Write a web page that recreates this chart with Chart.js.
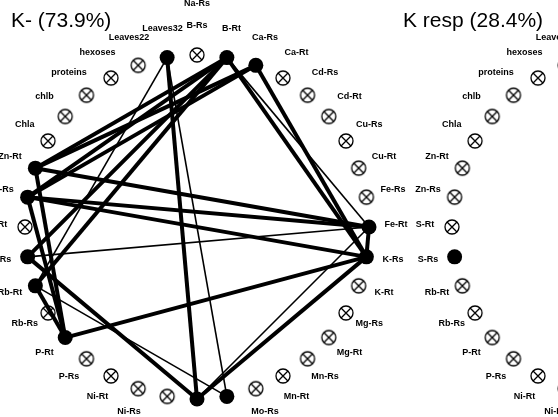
<!DOCTYPE html>
<html>
<head>
<meta charset="utf-8">
<script src="https://cdn.jsdelivr.net/npm/chart.js@4.4.1/dist/chart.umd.min.js"></script>
<style>
  html, body { margin: 0; padding: 0; background: #ffffff; }
  #wrap { width: 558px; height: 417px; }
</style>
</head>
<body>
<div id="wrap"><canvas id="net" width="558" height="417"></canvas></div>
<script>
// Variables placed clockwise around each circle, starting at 12 o'clock.
const variables = [
  'B-Rs', 'B-Rt', 'Ca-Rs', 'Ca-Rt', 'Cd-Rs', 'Cd-Rt', 'Cu-Rs', 'Cu-Rt', 'Fe-Rs', 'Fe-Rt',
  'K-Rs', 'K-Rt', 'Mg-Rs', 'Mg-Rt', 'Mn-Rs', 'Mn-Rt', 'Mo-Rs', 'Mo-Rt', 'Na-Rs', 'Na-Rt',
  'Ni-Rs', 'Ni-Rt', 'P-Rs', 'P-Rt', 'Rb-Rs', 'Rb-Rt', 'S-Rs', 'S-Rt', 'Zn-Rs', 'Zn-Rt',
  'Chla', 'chlb', 'proteins', 'hexoses', 'Leaves22', 'Leaves32'
];

// Panel titles.
const panelTitles = ['K- (73.9%)', 'K resp (28.4%)'];

// Variables retained in each network (drawn as filled nodes).
const retainedKminus = ['B-Rt', 'Ca-Rs', 'Fe-Rt', 'K-Rs', 'Mo-Rt', 'Na-Rs', 'P-Rt',
                        'Rb-Rt', 'S-Rs', 'Zn-Rs', 'Zn-Rt', 'Leaves32'];
const retainedKresp = ['S-Rs'];

// Links of the K- network: [from, to, strength] (2 = strong, 1 = weak).
const linksKminus = [
  ['Zn-Rt', 'B-Rt', 2],
  ['Zn-Rt', 'Ca-Rs', 2],
  ['Zn-Rt', 'Fe-Rt', 2],
  ['Zn-Rt', 'P-Rt', 2],
  ['Zn-Rs', 'B-Rt', 2],
  ['Zn-Rs', 'Ca-Rs', 2],
  ['Zn-Rs', 'Fe-Rt', 2],
  ['Zn-Rs', 'K-Rs', 2],
  ['Zn-Rs', 'P-Rt', 2],
  ['S-Rs', 'B-Rt', 2],
  ['B-Rt', 'K-Rs', 2],
  ['B-Rt', 'Rb-Rt', 2],
  ['Ca-Rs', 'K-Rs', 2],
  ['Leaves32', 'Na-Rs', 2],
  ['S-Rs', 'Na-Rs', 2],
  ['Na-Rs', 'K-Rs', 2],
  ['P-Rt', 'K-Rs', 2],
  ['Rb-Rt', 'P-Rt', 2],
  ['Fe-Rt', 'K-Rs', 2],
  ['S-Rs', 'Fe-Rt', 1],
  ['Leaves32', 'Mo-Rt', 1],
  ['Leaves32', 'Rb-Rt', 1],
  ['Rb-Rt', 'Mo-Rt', 1],
  ['Na-Rs', 'Fe-Rt', 1],
  ['B-Rt', 'Fe-Rt', 1]
];
const linksKresp = [];

// ---- layout (radius = 1 data unit) ----
const PX_PER_UNIT = 172;
const panelCentreX = [0, 427 / PX_PER_UNIT];
const X_MIN = -197 / PX_PER_UNIT, X_MAX = X_MIN + 558 / PX_PER_UNIT;
const Y_MAX = 227 / PX_PER_UNIT, Y_MIN = Y_MAX - 417 / PX_PER_UNIT;
const LABEL_R = 199 / PX_PER_UNIT;

function angleOf(name) {
  const i = variables.indexOf(name);
  return (90 - 360 * i / variables.length) * Math.PI / 180;
}
function nodePos(panel, name, r = 1) {
  const a = angleOf(name);
  return { x: panelCentreX[panel] + r * Math.cos(a), y: r * Math.sin(a) };
}

// Open node marker: circle with a cross.
function makeCrossMarker() {
  const s = 18, c = s / 2, r = 7;
  const cv = document.createElement('canvas');
  cv.width = s; cv.height = s;
  const g = cv.getContext('2d');
  g.strokeStyle = '#000';
  g.lineWidth = 1.3;
  g.beginPath(); g.arc(c, c, r, 0, Math.PI * 2); g.stroke();
  const d = r * Math.SQRT1_2;
  g.beginPath();
  g.moveTo(c - d, c - d); g.lineTo(c + d, c + d);
  g.moveTo(c + d, c - d); g.lineTo(c - d, c + d);
  g.stroke();
  return cv;
}
const crossMarker = makeCrossMarker();

const datasets = [];
const retained = [retainedKminus, retainedKresp];
const links = [linksKminus, linksKresp];

retained.forEach((keep, p) => {
  datasets.push({
    label: 'retained ' + p,
    data: keep.map(n => nodePos(p, n)),
    showLine: false,
    pointRadius: 7.5,
    pointBackgroundColor: '#000',
    pointBorderWidth: 0,
    order: 0
  });
  datasets.push({
    label: 'other ' + p,
    data: variables.filter(n => !keep.includes(n)).map(n => nodePos(p, n)),
    showLine: false,
    pointStyle: crossMarker,
    pointRadius: 7,
    order: 0
  });
});

links.forEach((list, p) => {
  list.forEach(([a, b, w]) => {
    datasets.push({
      label: a + ' - ' + b,
      data: [nodePos(p, a), nodePos(p, b)],
      showLine: true,
      borderColor: '#000',
      borderWidth: w === 2 ? 4 : 1.6,
      pointRadius: 0,
      fill: false,
      order: 1
    });
  });
});

const labelPlugin = {
  id: 'circleLabels',
  afterDatasetsDraw(chart) {
    const { ctx, scales } = chart;
    const xs = scales.x, ys = scales.y;
    ctx.save();
    ctx.fillStyle = '#000';
    ctx.textAlign = 'center';
    ctx.textBaseline = 'middle';
    ctx.font = 'bold 9px "Liberation Sans", Arial, sans-serif';
    panelTitles.forEach((t, p) => {
      variables.forEach(n => {
        const q = nodePos(p, n, LABEL_R);
        ctx.fillText(n, xs.getPixelForValue(q.x), ys.getPixelForValue(q.y) - 2.5);
      });
    });
    // label of the neighbouring network above
    ctx.fillText('Na-Rs', xs.getPixelForValue(0), 4);

    ctx.font = '21px "Liberation Sans", Arial, sans-serif';
    ctx.textAlign = 'left';
    ctx.fillText(panelTitles[0], 11, 21);
    ctx.fillText(panelTitles[1], 403, 21);
    ctx.restore();
  }
};

new Chart(document.getElementById('net'), {
  type: 'scatter',
  data: { datasets },
  options: {
    responsive: false,
    animation: false,
    devicePixelRatio: 1,
    layout: { padding: 0, autoPadding: false },
    plugins: { legend: { display: false }, tooltip: { enabled: false } },
    scales: {
      x: { type: 'linear', display: false, min: X_MIN, max: X_MAX },
      y: { type: 'linear', display: false, min: Y_MIN, max: Y_MAX }
    }
  },
  plugins: [labelPlugin]
});
</script>
</body>
</html>
